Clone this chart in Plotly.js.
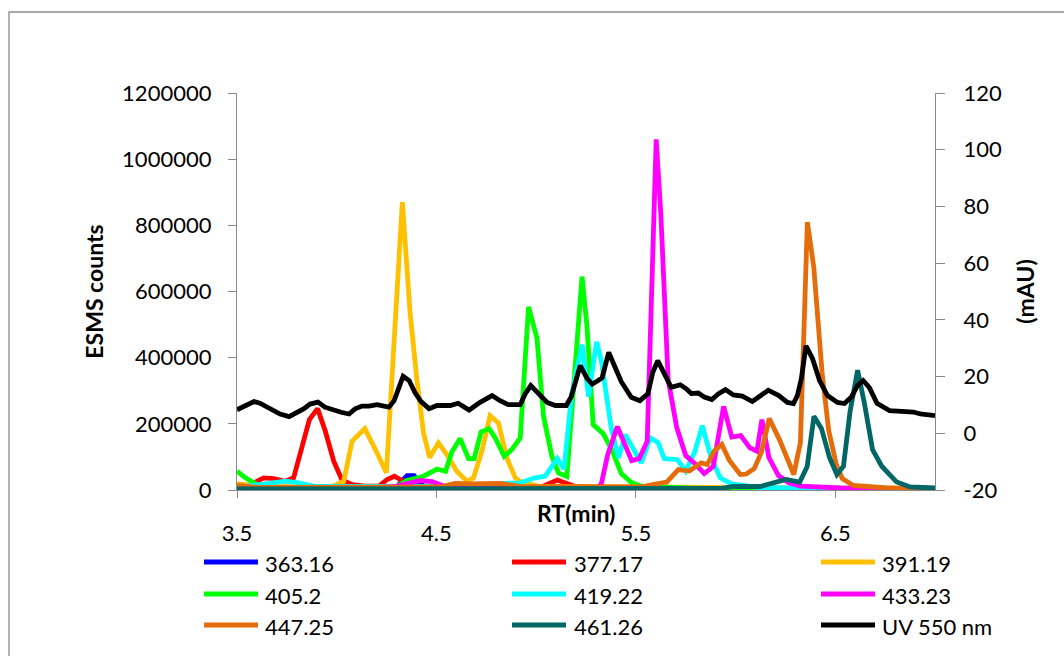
<!DOCTYPE html>
<html>
<head>
<meta charset="utf-8">
<script src="https://cdn.plot.ly/plotly-3.0.1.min.js"></script>
<style>
  html, body { margin: 0; padding: 0; background: #fff; overflow: hidden; }
  #chart { width: 1064px; height: 656px; }
</style>
</head>
<body>
<div id="chart"></div>
<script>
// ---- Data (retention time in min, ESMS counts / UV mAU) ----
const seriesNames = ["363.16", "377.17", "391.19", "405.2", "419.22", "433.23", "447.25", "461.26", "UV 550 nm"];
const seriesColors = ["#0000FF", "#FF0000", "#FFC000", "#00FF00", "#00FFFF", "#FF00FF", "#E46C0A", "#006666", "#000000"];

const t363 = [3.5, 4.293, 4.333, 4.353, 4.388, 4.418, 4.458, 7.0];
const v363 = [1500, 3000, 31700, 43700, 43700, 19600, 4500, 1500];

const t377 = [3.5, 3.565, 3.600, 3.634, 3.684, 3.742, 3.784, 3.826, 3.863, 3.904, 3.943, 3.985, 4.027, 4.077, 4.142, 4.212, 4.253, 4.289, 4.328, 4.363, 4.468, 5.020, 5.106, 5.196, 5.321, 7.0];
const v377 = [4500, 7500, 26500, 36800, 34700, 26500, 36800, 127300, 212700, 245900, 177400, 86900, 29600, 16600, 11500, 11500, 31700, 41600, 26500, 16600, 7500, 7500, 30200, 10600, 4500, 3000];

const t391 = [3.5, 3.615, 3.967, 4.035, 4.077, 4.141, 4.194, 4.249, 4.329, 4.368, 4.402, 4.435, 4.466, 4.510, 4.552, 4.602, 4.653, 4.686, 4.728, 4.769, 4.811, 4.853, 4.895, 4.920, 5.020, 7.0];
const v391 = [19600, 10600, 7500, 25600, 147200, 185500, 122200, 51900, 870000, 535500, 333400, 173500, 98100, 142400, 107100, 56700, 26500, 36800, 117100, 224800, 202700, 97100, 36800, 25600, 10600, 4500];

const t405 = [3.5, 3.542, 3.600, 3.666, 4.293, 4.351, 4.435, 4.503, 4.546, 4.577, 4.619, 4.661, 4.689, 4.724, 4.764, 4.795, 4.840, 4.878, 4.920, 4.962, 5.004, 5.037, 5.079, 5.112, 5.154, 5.204, 5.230, 5.255, 5.286, 5.336, 5.379, 5.427, 5.477, 5.532, 5.823, 7.0];
const v405 = [56700, 36800, 16600, 7500, 7500, 28700, 41600, 63400, 56700, 114600, 155400, 95000, 95000, 175000, 185500, 157500, 102000, 122200, 157500, 553600, 459200, 222700, 102000, 51900, 40700, 454000, 645000, 494200, 197600, 170500, 122200, 49800, 22600, 10600, 4500, 3000];

const t419 = [3.5, 3.634, 3.742, 3.810, 3.891, 4.719, 4.820, 4.920, 4.995, 5.045, 5.106, 5.140, 5.178, 5.231, 5.263, 5.303, 5.326, 5.377, 5.413, 5.447, 5.494, 5.527, 5.572, 5.612, 5.642, 5.708, 5.750, 5.796, 5.833, 5.878, 5.923, 5.980, 6.064, 6.124, 7.0];
const v419 = [7500, 16600, 26500, 21700, 10600, 10600, 19600, 21700, 36800, 41600, 95000, 63400, 288100, 439000, 282100, 448000, 393700, 185500, 97100, 167400, 116200, 82100, 157500, 143300, 95000, 92000, 57300, 116200, 194600, 97100, 36800, 18700, 11500, 7500, 3000];

const t433 = [3.5, 4.167, 4.293, 4.368, 4.418, 4.478, 4.544, 4.619, 5.296, 5.326, 5.359, 5.407, 5.439, 5.479, 5.517, 5.557, 5.602, 5.625, 5.662, 5.705, 5.750, 5.801, 5.843, 5.888, 5.940, 5.981, 6.026, 6.072, 6.107, 6.132, 6.167, 6.215, 6.265, 6.325, 6.526, 7.0];
const v433 = [3000, 4500, 10600, 22600, 28700, 25600, 10600, 4500, 4500, 16600, 107100, 191600, 143300, 89000, 95000, 147200, 1060000, 837200, 333400, 188600, 104100, 77000, 49800, 71300, 252800, 159900, 164400, 127300, 117100, 212700, 98100, 43700, 22600, 11500, 6000, 3000];

const t447 = [3.5, 3.615, 4.518, 4.594, 4.669, 4.820, 4.920, 5.522, 5.597, 5.655, 5.713, 5.768, 5.828, 5.858, 5.893, 5.931, 5.969, 6.024, 6.054, 6.094, 6.129, 6.169, 6.220, 6.260, 6.292, 6.325, 6.360, 6.392, 6.434, 6.467, 6.505, 6.535, 6.590, 6.661, 6.776, 7.0];
const v447 = [13600, 7500, 9100, 19600, 18100, 19600, 10600, 9100, 18100, 24100, 61800, 57300, 82100, 77000, 117700, 137600, 89000, 46800, 48300, 64900, 113100, 215700, 152400, 92000, 46800, 143300, 810000, 674300, 353600, 179500, 77000, 34700, 13600, 10600, 6000, 3000];

const t461 = [3.5, 5.923, 5.989, 6.124, 6.253, 6.322, 6.359, 6.393, 6.431, 6.471, 6.508, 6.541, 6.574, 6.612, 6.645, 6.687, 6.733, 6.808, 6.875, 7.0];
const v461 = [3000, 4500, 10600, 10600, 31700, 24100, 70900, 222700, 185500, 98100, 46800, 71800, 236800, 362000, 265500, 122200, 71800, 24100, 9100, 6000];

const tUV = [3.500, 3.540, 3.585, 3.615, 3.661, 3.716, 3.761, 3.801, 3.836, 3.866, 3.906, 3.941, 3.987, 4.022, 4.062, 4.092, 4.127, 4.162, 4.202, 4.237, 4.262, 4.288, 4.313, 4.333, 4.363, 4.378, 4.393, 4.423, 4.463, 4.503, 4.569, 4.609, 4.664, 4.719, 4.779, 4.819, 4.860, 4.920, 4.945, 4.973, 5.010, 5.055, 5.096, 5.151, 5.176, 5.221, 5.256, 5.281, 5.311, 5.331, 5.364, 5.392, 5.427, 5.477, 5.520, 5.560, 5.585, 5.610, 5.637, 5.677, 5.723, 5.753, 5.778, 5.813, 5.843, 5.881, 5.913, 5.949, 5.989, 6.034, 6.084, 6.119, 6.164, 6.217, 6.260, 6.290, 6.310, 6.330, 6.353, 6.386, 6.421, 6.461, 6.511, 6.546, 6.581, 6.611, 6.640, 6.671, 6.709, 6.772, 6.892, 6.927, 7.0];
const vUV = [8.3, 9.8, 11.2, 10.6, 8.7, 6.8, 5.9, 7.3, 8.7, 10.3, 11.0, 9.2, 8.0, 7.4, 6.8, 8.6, 9.6, 9.6, 10.1, 9.4, 9.2, 11.5, 16.8, 20.1, 18.6, 16.1, 14.3, 11.2, 8.7, 9.8, 9.8, 10.6, 8.2, 10.9, 13.3, 11.5, 10.1, 10.1, 13.9, 16.8, 13.9, 10.9, 9.8, 9.8, 12.9, 23.9, 19.3, 17.3, 18.6, 19.6, 28.5, 24.2, 18.2, 12.7, 11.5, 13.9, 21.5, 25.6, 21.4, 16.2, 17.1, 15.7, 14.0, 14.2, 12.8, 11.9, 13.9, 15.4, 13.5, 13.1, 11.2, 12.9, 15.2, 13.3, 10.9, 10.5, 13.3, 19.3, 30.8, 26.3, 18.6, 13.3, 10.9, 10.5, 12.8, 16.8, 18.6, 16.1, 10.6, 8.0, 7.5, 6.8, 6.2];

const uvTicks = [-20, 0, 20, 40, 60, 80, 100, 120];
const uvTickText = ["-20", "0", "20", "40", "60", "80", "100", "120"];

const xTitle = "RT(min)";
const yTitle = "ESMS counts";
const y2Title = "(mAU)";

// ---- Build chart ----
const xs = [t363, t377, t391, t405, t419, t433, t447, t461, tUV];
const ys = [v363, v377, v391, v405, v419, v433, v447, v461, vUV];

const FONT = "Lato, 'Open Sans', sans-serif";
const GRAY = "#898989";

const traces = xs.map((x, i) => ({
  type: "scatter",
  mode: "lines",
  name: seriesNames[i],
  x: x,
  y: ys[i],
  yaxis: i === 8 ? "y2" : "y",
  line: { color: seriesColors[i], width: 4.8 },
  showlegend: false,
  hoverinfo: "x+y+name"
}));

// plot area in pixels
const L = 237, R = 935, T = 93, B = 490;
const px = v => (v - L) / (R - L);
const py = v => (B - v) / (B - T);

const shapes = [];
const annotations = [];

// outer chart frame
shapes.push({
  type: "path", xref: "paper", yref: "paper",
  path: `M ${px(1075)} ${py(12)} L ${px(9)} ${py(12)} L ${px(9)} ${py(670)}`,
  line: { color: "#8c8c8c", width: 1.3 }
});

// manual legend, 3 columns x 3 rows
const legLineX = [204, 512, 821];
const legTextX = [263, 572, 880];
const legRowY = [562, 594, 625];
seriesNames.forEach((nm, i) => {
  const c = i % 3, r = Math.floor(i / 3);
  shapes.push({
    type: "line", xref: "paper", yref: "paper",
    x0: px(legLineX[c]), x1: px(legLineX[c] + 54),
    y0: py(legRowY[r]), y1: py(legRowY[r]),
    line: { color: seriesColors[i], width: 5 }
  });
  annotations.push({
    xref: "paper", yref: "paper",
    x: px(legTextX[c]), y: py(legRowY[r] + 1),
    xanchor: "left", yanchor: "middle",
    text: nm, showarrow: false,
    font: { family: FONT, size: 22, color: "#000" }
  });
});

// x-axis title placed as in the reference (over the tick label row)
annotations.push({
  xref: "paper", yref: "paper",
  x: px(576), y: py(513),
  xanchor: "center", yanchor: "middle",
  text: "<b>" + xTitle + "</b>", showarrow: false,
  font: { family: FONT, size: 23, color: "#000" }
});

const layout = {
  width: 1064, height: 656,
  margin: { l: L, r: 1064 - R, t: T, b: 656 - B, pad: 0 },
  paper_bgcolor: "#fff", plot_bgcolor: "#fff",
  font: { family: FONT, size: 22, color: "#000" },
  showlegend: false,
  xaxis: {
    range: [3.5, 7.0], tick0: 3.5, dtick: 1, tickformat: ".1f",
    showgrid: false, zeroline: false,
    showline: true, linecolor: GRAY, linewidth: 1.3,
    ticks: "outside", ticklen: 7, tickcolor: GRAY, tickwidth: 1.3,
    ticklabelstandoff: 16,
    tickfont: { family: FONT, size: 22, color: "#000" }
  },
  yaxis: {
    range: [0, 1200000], dtick: 200000, tickformat: "d",
    showgrid: false, zeroline: false,
    showline: true, linecolor: GRAY, linewidth: 1.3,
    ticks: "outside", ticklen: 8, tickcolor: GRAY, tickwidth: 1.3,
    ticklabelstandoff: 12,
    tickfont: { family: FONT, size: 22, color: "#000" },
    title: { text: "<b>" + yTitle + "</b>", standoff: 12, font: { family: FONT, size: 23, color: "#000" } }
  },
  yaxis2: {
    range: [-20, 120], tickmode: "array", tickvals: uvTicks, ticktext: uvTickText,
    overlaying: "y", side: "right",
    showgrid: false, zeroline: false,
    showline: true, linecolor: GRAY, linewidth: 1.3,
    ticks: "outside", ticklen: 9, tickcolor: GRAY, tickwidth: 1.3,
    ticklabelstandoff: 14,
    tickfont: { family: FONT, size: 22, color: "#000" },
    title: { text: "<b>" + y2Title + "</b>", standoff: 16, font: { family: FONT, size: 23, color: "#000" } }
  },
  shapes: shapes,
  annotations: annotations
};

Plotly.newPlot("chart", traces, layout, { displayModeBar: false, responsive: false, staticPlot: false });
</script>
</body>
</html>
